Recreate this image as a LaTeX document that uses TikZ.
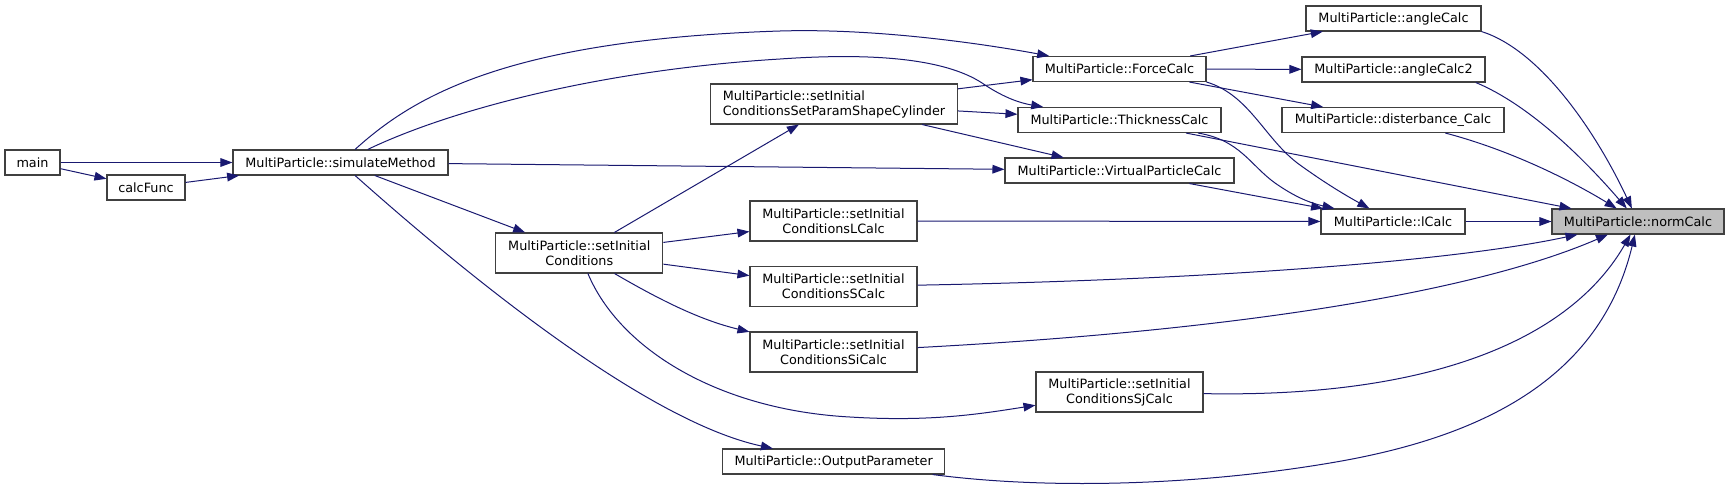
\documentclass[tikz,border=0pt]{standalone}
\usepackage{fontspec}
\setmainfont{DejaVu Sans}
\usetikzlibrary{arrows.meta}

\definecolor{callblue}{RGB}{25,25,112}
\definecolor{focusgray}{RGB}{191,191,191}

\begin{document}
\begin{tikzpicture}[x=0.75pt, y=-0.75pt,
  func/.style={draw=black!75, line width=0.8pt, fill=white, inner sep=0pt,
    minimum width=#1*0.75pt, minimum height=18.75pt, align=center,
    font=\fontsize{9.6}{11.25}\selectfont},
  tall/.style={minimum height=30pt},
  call/.style={draw=callblue, line width=0.75pt,
    -{Triangle[length=9pt,width=6.5pt]}}]
  \useasboundingbox (0,0) rectangle (1729,493);

  % functions, column by column
  \node[func=55] (main) at (32.5,162.5) {main};
  \node[func=78] (calcfunc) at (146,187.5) {calcFunc};
  \node[func=215] (simulate) at (340.5,162.5) {MultiParticle::simulateMethod};
  \node[func=167, tall] (setinit) at (579.3,253) {MultiParticle::setInitial\\Conditions};
  \node[func=247, tall, align=left] (shapecyl) at (834,104) {MultiParticle::setInitial\\ConditionsSetParamShapeCylinder};
  \node[func=167, tall] (initlcalc) at (833.5,221) {MultiParticle::setInitial\\ConditionsLCalc};
  \node[func=167, tall] (initscalc) at (833.5,286.7) {MultiParticle::setInitial\\ConditionsSCalc};
  \node[func=167, tall] (initsicalc) at (833.5,352) {MultiParticle::setInitial\\ConditionsSiCalc};
  \node[func=222] (output) at (833.7,461.5) {MultiParticle::OutputParameter};
  \node[func=173] (force) at (1119.5,69) {MultiParticle::ForceCalc};
  \node[func=203] (thickness) at (1119.5,120) {MultiParticle::ThicknessCalc};
  \node[func=229] (virtual) at (1119.5,170.5) {MultiParticle::VirtualParticleCalc};
  \node[func=167, tall] (initsjcalc) at (1119.5,392) {MultiParticle::setInitial\\ConditionsSjCalc};
  \node[func=175] (anglecalc) at (1393.5,18.5) {MultiParticle::angleCalc};
  \node[func=183] (anglecalctwo) at (1393.5,69.5) {MultiParticle::angleCalc2};
  \node[func=222] (disterb) at (1393,120) {MultiParticle::disterbance\_Calc};
  \node[func=144] (lcalc) at (1393,221.5) {MultiParticle::lCalc};
  \node[func=172, fill=focusgray] (normcalc) at (1638,221.5) {MultiParticle::normCalc};

  % calls
  \draw[call] (main) -- (simulate);
  \draw[call] (main) -- (calcfunc);
  \draw[call] (calcfunc) -- (simulate);
  \draw[call] (simulate) .. controls (410,100) and (500,40) .. (780,31)
    .. controls (880,28) and (990,45) .. (force);
  \draw[call] (simulate) .. controls (450,110) and (600,70) .. (780,59)
    .. controls (880,52) and (950,60) .. (985,85)
    .. controls (1005,98) and (1020,103) .. (thickness);
  \draw[call] (simulate) -- (virtual);
  \draw[call] (simulate) -- (setinit);
  \draw[call] (simulate) .. controls (450,260) and (640,420) .. (output);
  \draw[call] (setinit) -- (shapecyl);
  \draw[call] (setinit) -- (initlcalc);
  \draw[call] (setinit) -- (initscalc);
  \draw[call] (setinit) .. controls (660,300) and (700,320) .. (initsicalc);
  \draw[call] (setinit) .. controls (620,350) and (720,410) .. (850,417)
    .. controls (930,422) and (980,414) .. (initsjcalc);
  \draw[call] (shapecyl) -- (force);
  \draw[call] (shapecyl) -- (thickness);
  \draw[call] (shapecyl) -- (virtual);
  \draw[call] (force) -- (anglecalc);
  \draw[call] (force) -- (anglecalctwo);
  \draw[call] (force) -- (disterb);
  \draw[call] (force.south east) .. controls (1250,95) and (1265,140) .. (1300,165)
    .. controls (1325,183) and (1345,195) .. (lcalc);
  \draw[call] (thickness) .. controls (1240,140) and (1250,165) .. (1275,183)
    .. controls (1295,197) and (1310,203) .. (lcalc);
  \draw[call] (thickness) -- (normcalc);
  \draw[call] (virtual) -- (lcalc);
  \draw[call] (initlcalc) -- (lcalc);
  \draw[call] (lcalc) -- (normcalc);
  \draw[call] (anglecalc.south east) .. controls (1540,50) and (1595,130) .. (normcalc);
  \draw[call] (anglecalctwo.-9) .. controls (1530,105) and (1585,160) .. (normcalc);
  \draw[call] (disterb.-14) .. controls (1510,150) and (1570,180) .. (normcalc);
  \draw[call] (initscalc) .. controls (1200,280) and (1450,262) .. (normcalc);
  \draw[call] (initsicalc) .. controls (1250,330) and (1480,290) .. (normcalc);
  \draw[call] (initsjcalc) .. controls (1430,398) and (1570,340) .. (normcalc);
  \draw[call] (output) .. controls (1050,490) and (1200,485) .. (1330,463)
    .. controls (1480,438) and (1600,380) .. (normcalc);
\end{tikzpicture}
\end{document}
